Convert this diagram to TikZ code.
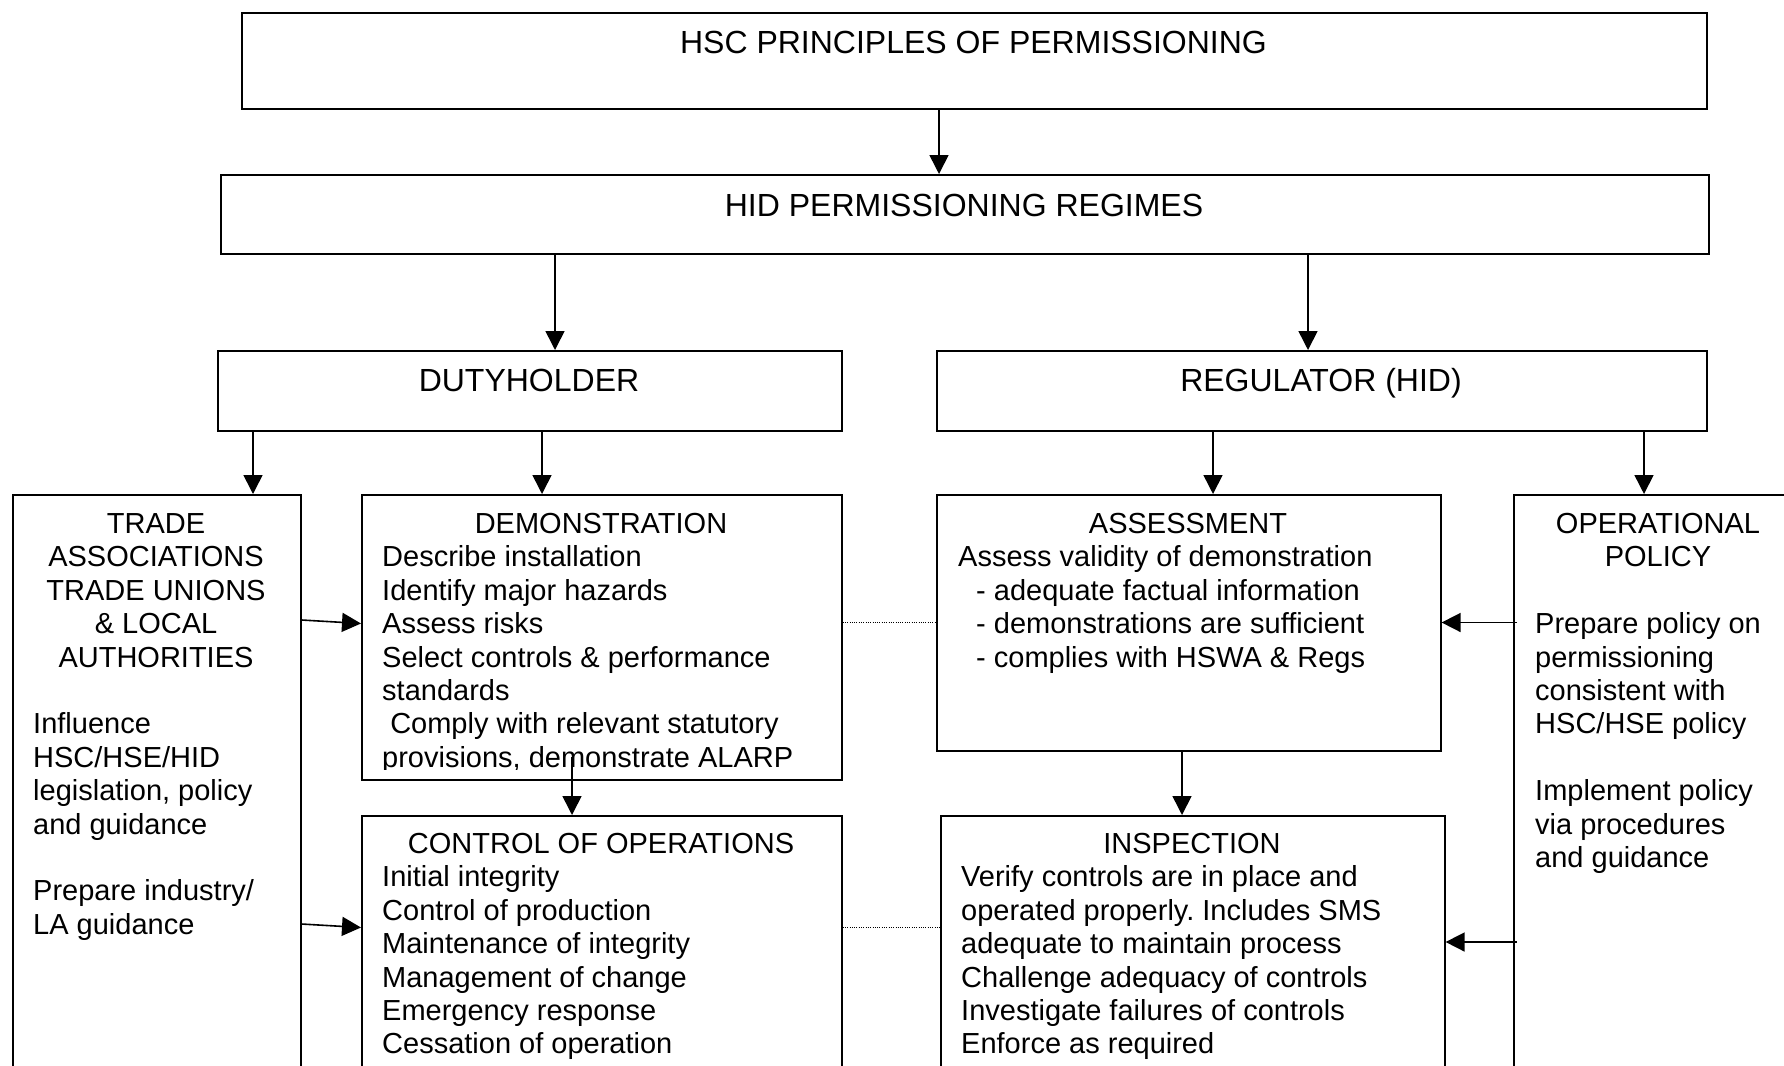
\documentclass[tikz,border=0pt]{standalone}
\usepackage{fontspec}
\setmainfont{Liberation Sans}
\usetikzlibrary{arrows.meta}
\frenchspacing
\begin{document}
\begin{tikzpicture}[x=1pt,y=-1pt,
  box/.style={draw, line width=1.6pt, inner sep=0pt, anchor=north west},
  arr/.style={line width=1.6pt, -{Triangle[length=19pt,width=19pt]}},
  dotl/.style={line width=1pt, dash pattern=on 1pt off 1.3pt},
  head/.style={font=\fontsize{32}{38}\selectfont, anchor=base, inner sep=0pt},
  txt/.style={font=\fontsize{29}{33.4}\selectfont, anchor=base west, inner sep=0pt},
  ctxt/.style={font=\fontsize{29}{33.4}\selectfont, anchor=base, inner sep=0pt},
]
\useasboundingbox (0,0) rectangle (1784,1065);
\clip (0,0) rectangle (1784,1065);
\fill[white] (0,0) rectangle (1784,1065);

% boxes
\node[box, minimum width=1465pt, minimum height=95.5pt] (top) at (241,12.5) {};
\node[box, minimum width=1488pt, minimum height=79pt] (hid) at (220,174) {};
\node[box, minimum width=624pt, minimum height=80pt] (duty) at (217,350) {};
\node[box, minimum width=770pt, minimum height=80pt] (reg) at (936,350) {};
\node[box, minimum width=288pt, minimum height=650pt] (trade) at (12,494) {};
\node[box, minimum width=480pt, minimum height=285pt] (demo) at (361,494) {};
\node[box, minimum width=480pt, minimum height=300pt] (ctrl) at (361,815) {};
\node[box, minimum width=504pt, minimum height=256pt] (assess) at (936,494) {};
\node[box, minimum width=504pt, minimum height=300pt] (insp) at (940,815) {};
\node[box, minimum width=290pt, minimum height=650pt] (op) at (1513,494) {};

% headings
\node[head] (toptxt) at (973.5,54) {HSC PRINCIPLES OF PERMISSIONING};
\node[head] (hidtxt) at (964,216.5) {HID PERMISSIONING REGIMES};
\node[head] (dutytxt) at (529,391.5) {DUTYHOLDER};
\node[head] (regtxt) at (1321,391.5) {REGULATOR (HID)};

% trade box
\node[ctxt] (tr0) at (156,533.4) {TRADE};
\node[ctxt] (tr1) at (156,566.8) {ASSOCIATIONS};
\node[ctxt] (tr2) at (156,600.2) {TRADE UNIONS};
\node[ctxt] (tr3) at (156,633.6) {\& LOCAL};
\node[ctxt] (tr4) at (156,667.0) {AUTHORITIES};
\node[txt] (tr6) at (33,733.8) {Influence};
\node[txt] (tr7) at (33,767.2) {HSC/HSE/HID};
\node[txt] (tr8) at (33,800.6) {legislation, policy};
\node[txt] (tr9) at (33,834.0) {and guidance};
\node[txt] (tr11) at (33,900.8) {Prepare industry/};
\node[txt] (tr12) at (33,934.2) {LA guidance};

% demonstration
\node[ctxt] (de0) at (601,533.4) {DEMONSTRATION};
\node[txt] (de1) at (382,566.8) {Describe installation};
\node[txt] (de2) at (382,600.2) {Identify major hazards};
\node[txt] (de3) at (382,633.6) {Assess risks};
\node[txt] (de4) at (382,667.0) {Select controls \& performance};
\node[txt] (de5) at (382,700.4) {standards};
\node[txt] (de6) at (382,733.8) {\ Comply with relevant statutory};
\begin{scope}
\clip (361,740) rectangle (841,769.5);
\node[txt] (de7) at (382,767.2) {provisions, demonstrate ALARP};
\end{scope}

% control of operations
\node[ctxt] (co0) at (601,853.4) {CONTROL OF OPERATIONS};
\node[txt] (co1) at (382,886.8) {Initial integrity};
\node[txt] (co2) at (382,920.2) {Control of production};
\node[txt] (co3) at (382,953.6) {Maintenance of integrity};
\node[txt] (co4) at (382,987.0) {Management of change};
\node[txt] (co5) at (382,1020.4) {Emergency response};
\node[txt] (co6) at (382,1053.8) {Cessation of operation};

% assessment
\node[ctxt] (as0) at (1188,533.4) {ASSESSMENT};
\node[txt] (as1) at (958,566.8) {Assess validity of demonstration};
\node[txt] (as2) at (976,600.2) {- adequate factual information};
\node[txt] (as3) at (976,633.6) {- demonstrations are sufficient};
\node[txt] (as4) at (976,667.0) {- complies with HSWA \& Regs};

% inspection
\node[ctxt] (in0) at (1192,853.4) {INSPECTION};
\node[txt] (in1) at (961,886.8) {Verify controls are in place and};
\node[txt] (in2) at (961,920.2) {operated properly. Includes SMS};
\node[txt] (in3) at (961,953.6) {adequate to maintain process};
\node[txt] (in4) at (961,987.0) {Challenge adequacy of controls};
\node[txt] (in5) at (961,1020.4) {Investigate failures of controls};
\node[txt] (in6) at (961,1053.8) {Enforce as required};

% operational policy
\node[ctxt] (op0) at (1658,533.4) {OPERATIONAL};
\node[ctxt] (op1) at (1658,566.8) {POLICY};
\node[txt] (op3) at (1535,633.6) {Prepare policy on};
\node[txt] (op4) at (1535,667.0) {permissioning};
\node[txt] (op5) at (1535,700.4) {consistent with};
\node[txt] (op6) at (1535,733.8) {HSC/HSE policy};
\node[txt] (op8) at (1535,800.6) {Implement policy};
\node[txt] (op9) at (1535,834.0) {via procedures};
\node[txt] (op10) at (1535,867.4) {and guidance};

% helper coordinates
\coordinate (x939) at (939,0);
\coordinate (x555) at (555,0);
\coordinate (x1308) at (1308,0);
\coordinate (x253) at (253,0);
\coordinate (x542) at (542,0);
\coordinate (x1213) at (1213,0);
\coordinate (x1644) at (1644,0);
\coordinate (x572) at (572,0);
\coordinate (x1182) at (1182,0);
\coordinate (ya) at (0,620);
\coordinate (yb) at (0,623.5);
\coordinate (yc) at (0,924);
\coordinate (yd) at (0,927.5);
\coordinate (ye) at (0,622.5);
\coordinate (yf) at (0,927);
\coordinate (dstart) at (572,757);
\coordinate (opa) at (1517,622.5);
\coordinate (opb) at (1517,942);

% arrows
\draw[arr] (x939 |- top.south) -- (x939 |- hid.north);
\draw[arr] (x555 |- hid.south) -- (x555 |- duty.north);
\draw[arr] (x1308 |- hid.south) -- (x1308 |- reg.north);
\draw[arr] (x253 |- duty.south) -- (x253 |- trade.north);
\draw[arr] (x542 |- duty.south) -- (x542 |- demo.north);
\draw[arr] (x1213 |- reg.south) -- (x1213 |- assess.north);
\draw[arr] (x1644 |- reg.south) -- (x1644 |- op.north);
\draw[arr] (dstart) -- (x572 |- ctrl.north);
\draw[arr] (x1182 |- assess.south) -- (x1182 |- insp.north);
\draw[arr] (trade.east |- ya) -- (demo.west |- yb);
\draw[arr] (trade.east |- yc) -- (ctrl.west |- yd);
\draw[arr] (opa) -- (assess.east |- opa);
\draw[arr] (opb) -- (insp.east |- opb);

% dotted links
\draw[dotl] (demo.east |- ye) -- (assess.west |- ye);
\draw[dotl] (ctrl.east |- yf) -- (insp.west |- yf);
\end{tikzpicture}
\end{document}
